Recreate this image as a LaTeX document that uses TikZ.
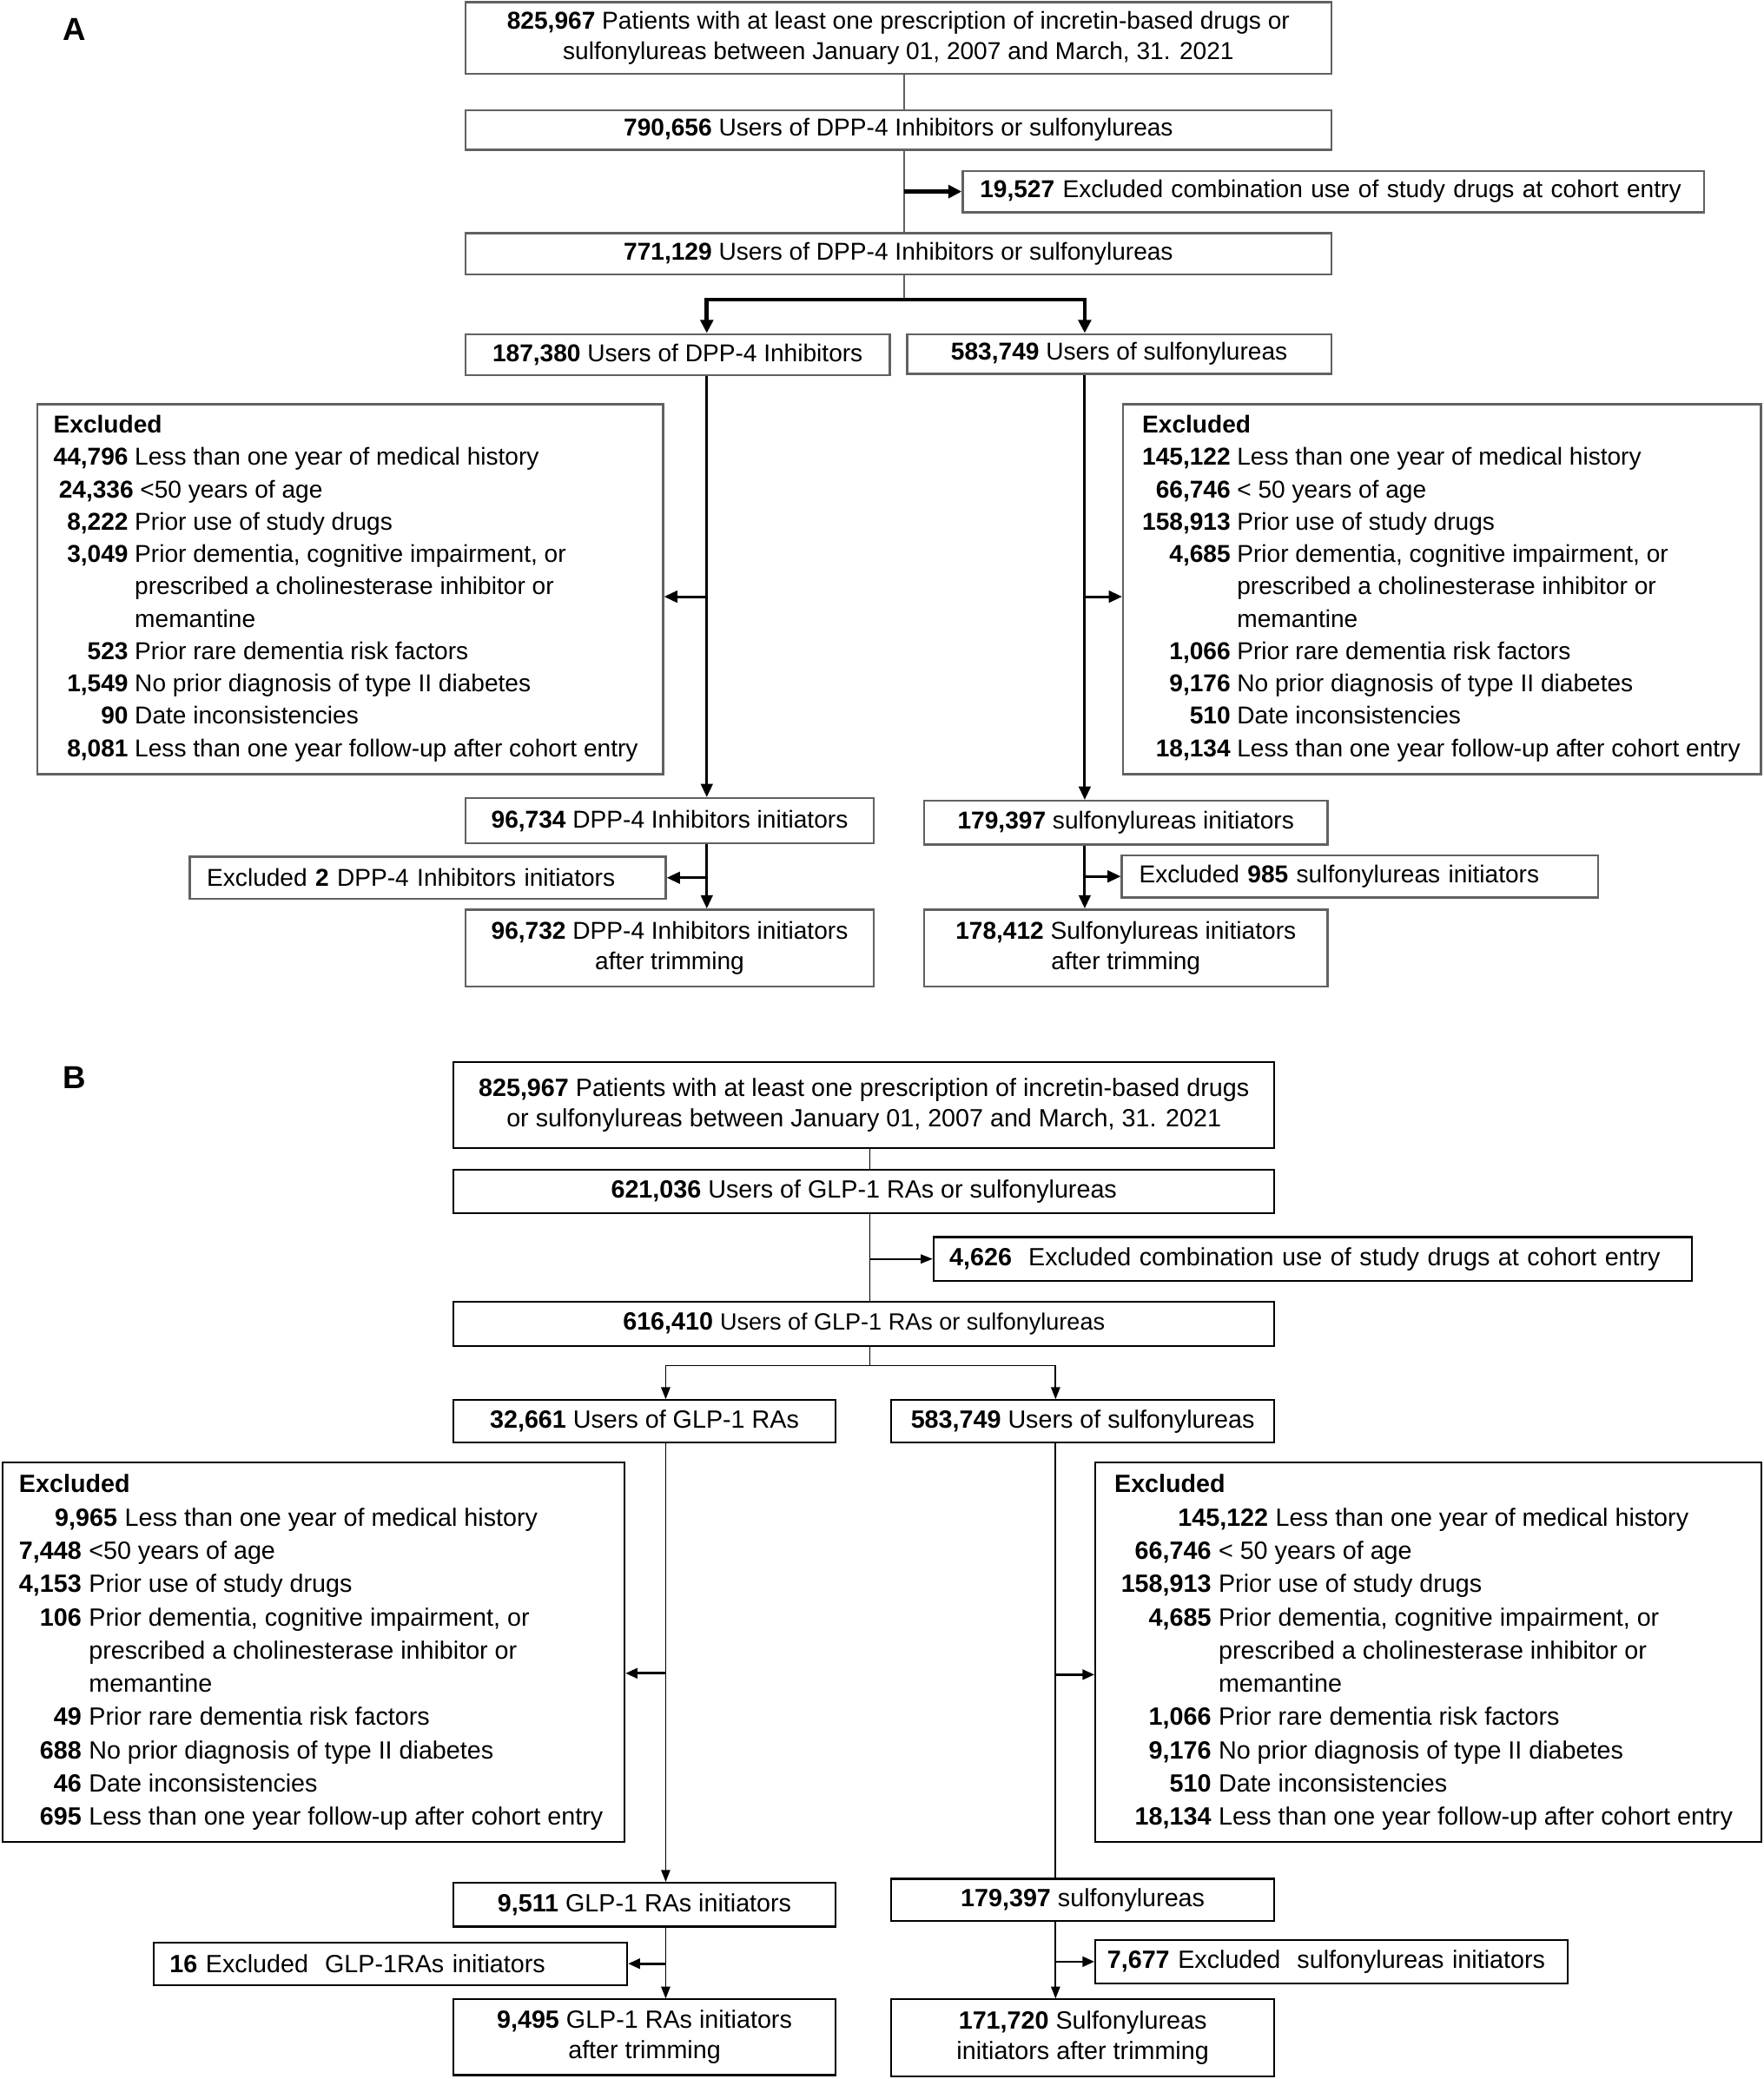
\documentclass[tikz,border=0pt]{standalone}
\usepackage{fontspec}
\setmainfont{Liberation Sans}
\usetikzlibrary{arrows.meta}
\begin{document}
\begin{tikzpicture}[x=0.5pt,y=-0.5pt,
  boxA/.style={draw=black!62, line width=0.8pt, inner sep=0pt, align=center, font=\fontsize{9.2}{11.5}\selectfont},
  boxB/.style={draw=black, line width=0.7pt, inner sep=0pt, align=center, font=\fontsize{9.4}{11.5}\selectfont},
  leftA/.style={boxA, align=left, inner xsep=6.5pt, inner ysep=0pt},
  leftB/.style={boxB, align=left, inner ysep=0pt},
  thinA/.style={draw=black!62, line width=0.6pt},
  arrA/.style={draw=black, line width=1.5pt, -{Triangle[length=5pt,width=4.8pt]}},
  colA/.style={draw=black, line width=1pt, -{Triangle[length=5pt,width=4.4pt]}},
  lineB/.style={draw=black, line width=0.55pt},
  arrB/.style={lineB, -{Triangle[length=4.5pt,width=3.4pt]}},
  sideB/.style={draw=black, line width=0.9pt, -{Triangle[length=4.5pt,width=3.8pt]}},
  exA/.style={anchor=base west, inner sep=0pt, font=\fontsize{9.2}{12.2}\selectfont},
  exB/.style={anchor=base west, inner sep=0pt, font=\fontsize{9.4}{12.55}\selectfont},
  panel/.style={font=\fontsize{12}{14}\selectfont\bfseries, inner sep=0pt}
]
\useasboundingbox (0,0) rectangle (1330,1568);

% ---------------- Panel A ----------------
\node[panel] (labA) at (56,22) {A};
\node[boxA, minimum width=326.5pt, minimum height=27pt] (a1) at (677.5,28.5)
  {\textbf{825,967} Patients with at least one prescription of incretin-based drugs or\\sulfonylureas between January 01, 2007 and March, 31. 2021};
\node[boxA, minimum width=326.5pt, minimum height=15pt] (a2) at (677.5,98)
  {\textbf{790,656} Users of DPP-4 Inhibitors or sulfonylureas};
\node[leftA, text width=266.5pt, minimum height=15.5pt] (aEx) at (1005.5,144.5)
  {\textbf{19,527} Excluded combination use of study drugs at cohort entry};
\node[boxA, minimum width=326.5pt, minimum height=15.5pt] (a3) at (677.5,191.5)
  {\textbf{771,129} Users of DPP-4 Inhibitors or sulfonylureas};
\node[boxA, minimum width=160pt, minimum height=15.5pt] (a4L) at (511,267.5)
  {\textbf{187,380} Users of DPP-4 Inhibitors};
\node[boxA, minimum width=160pt, minimum height=15pt] (a4R) at (844,267)
  {\textbf{583,749} Users of sulfonylureas};
\node[boxA, minimum width=236pt, minimum height=139.5pt] (aExL) at (264,444.5) {};
\node[boxA, minimum width=240.5pt, minimum height=139.5pt] (aExR) at (1087.5,444.5) {};
\node[boxA, minimum width=154pt, minimum height=17pt] (a5L) at (505,619)
  {\textbf{96,734} DPP-4 Inhibitors initiators};
\node[boxA, minimum width=152pt, minimum height=16.5pt] (a5R) at (849,620.5)
  {\textbf{179,397} sulfonylureas initiators};
\node[leftA, text width=166.5pt, minimum height=16pt] (aTrL) at (322.5,662)
  {Excluded \textbf{2} DPP-4 Inhibitors initiators};
\node[leftA, text width=166.5pt, minimum height=16pt] (aTrR) at (1025.5,661)
  {Excluded \textbf{985} sulfonylureas initiators};
\node[boxA, minimum width=154pt, minimum height=29pt] (a6L) at (505,715)
  {\textbf{96,732} DPP-4 Inhibitors initiators\\after trimming};
\node[boxA, minimum width=152pt, minimum height=29pt] (a6R) at (849,715)
  {\textbf{178,412} Sulfonylureas initiators\\after trimming};

\node[exA] (aExLt) at (40,326.6) {\begin{tabular}[t]{@{}r@{\hspace{2.5pt}}l@{}}
\multicolumn{2}{@{}l@{}}{\textbf{Excluded}}\\
\textbf{44,796} & Less than one year of medical history\\
 & \hspace*{2pt}\llap{\textbf{24,336}\hspace{2.5pt}}<50 years of age\\
\textbf{8,222} & Prior use of study drugs\\
\textbf{3,049} & Prior dementia, cognitive impairment, or\\
 & prescribed a cholinesterase inhibitor or\\
 & memantine\\
\textbf{523} & Prior rare dementia risk factors\\
\textbf{1,549} & No prior diagnosis of type II diabetes\\
\textbf{90} & Date inconsistencies\\
\textbf{8,081} & Less than one year follow-up after cohort entry
\end{tabular}};
\node[exA] (aExRt) at (861,326.6) {\begin{tabular}[t]{@{}r@{\hspace{2.5pt}}l@{}}
\multicolumn{2}{@{}l@{}}{\textbf{Excluded}}\\
\textbf{145,122} & Less than one year of medical history\\
\textbf{66,746} & < 50 years of age\\
\textbf{158,913} & Prior use of study drugs\\
\textbf{4,685} & Prior dementia, cognitive impairment, or\\
 & prescribed a cholinesterase inhibitor or\\
 & memantine\\
\textbf{1,066} & Prior rare dementia risk factors\\
\textbf{9,176} & No prior diagnosis of type II diabetes\\
\textbf{510} & Date inconsistencies\\
\textbf{18,134} & Less than one year follow-up after cohort entry
\end{tabular}};

\coordinate (axA) at (682,0);
\coordinate (colAL) at (533,0);
\coordinate (colAR) at (818,0);
\coordinate (splitA) at (682,226);
\coordinate (sideAL) at (533,450);
\coordinate (sideAR) at (818,450);

\draw[thinA] (a1.south -| axA) -- (a2.north -| axA);
\draw[thinA] (a2.south -| axA) -- (a3.north -| axA);
\draw[arrA] (aEx.west -| axA) -- (aEx.west);
\draw[thinA] (a3.south -| axA) -- (splitA);
\draw[arrA] (splitA) -| (a4L.north -| colAL);
\draw[arrA] (splitA) -| (a4R.north -| colAR);
\draw[colA] (a4L.south -| colAL) -- (a5L.north -| colAL);
\draw[colA] (a4R.south -| colAR) -- (a5R.north -| colAR);
\draw[colA] (sideAL) -- (sideAL -| aExL.east);
\draw[colA] (sideAR) -- (sideAR -| aExR.west);
\draw[colA] (a5L.south -| colAL) -- (a6L.north -| colAL);
\draw[colA] (a5R.south -| colAR) -- (a6R.north -| colAR);
\draw[colA] (aTrL.east -| colAL) -- (aTrL.east);
\draw[colA] (aTrR.west -| colAR) -- (aTrR.west);

% ---------------- Panel B ----------------
\node[panel] (labB) at (56,813) {B};
\node[boxB, minimum width=309.5pt, minimum height=32.5pt] (b1) at (651.5,833.5)
  {\textbf{825,967} Patients with at least one prescription of incretin-based drugs\\or sulfonylureas between January 01, 2007 and March, 31. 2021};
\node[boxB, minimum width=309.5pt, minimum height=16.5pt] (b2) at (651.5,898.5)
  {\textbf{621,036} Users of GLP-1 RAs or sulfonylureas};
\node[leftB, inner xsep=6pt, text width=274pt, minimum height=16.5pt] (bEx) at (990,949.5)
  {\textbf{4,626}\ \ Excluded combination use of study drugs at cohort entry};
\node[boxB, minimum width=309.5pt, minimum height=16.5pt] (b3) at (651.5,998.5)
  {\textbf{616,410} {\fontsize{8.85}{11}\selectfont Users of GLP-1 RAs or sulfonylureas}};
\node[boxB, minimum width=144pt, minimum height=16pt] (b4L) at (486,1072)
  {\textbf{32,661} Users of GLP-1 RAs};
\node[boxB, minimum width=144.5pt, minimum height=16pt] (b4R) at (816.5,1072)
  {\textbf{583,749} Users of sulfonylureas};
\node[boxB, minimum width=234.5pt, minimum height=143pt] (bExL) at (236.5,1246) {};
\node[boxB, minimum width=251pt, minimum height=143pt] (bExR) at (1077,1246) {};
\node[boxB, minimum width=144pt, minimum height=16.5pt] (b5L) at (486,1436.5)
  {\textbf{9,511} GLP-1 RAs initiators};
\node[boxB, minimum width=144.5pt, minimum height=16pt] (b5R) at (816.5,1433)
  {\textbf{179,397} sulfonylureas};
\node[leftB, inner xsep=6pt, text width=166.5pt, minimum height=16pt] (bTrL) at (294.5,1481)
  {\textbf{16} Excluded\ \ GLP-1RAs initiators};
\node[leftB, inner xsep=4.5pt, text width=169pt, minimum height=16.5pt] (bTrR) at (1004,1479.5)
  {\textbf{7,677} Excluded\ \ sulfonylureas initiators};
\node[boxB, minimum width=144pt, minimum height=28.5pt] (b6L) at (486,1536.5)
  {\textbf{9,495} GLP-1 RAs initiators\\after trimming};
\node[boxB, minimum width=144.5pt, minimum height=29pt] (b6R) at (816.5,1537)
  {\textbf{171,720} Sulfonylureas\\initiators after trimming};

\node[exB] (bExLt) at (14,1125.7) {\begin{tabular}[t]{@{}r@{\hspace{2.8pt}}l@{}}
\multicolumn{2}{@{}l@{}}{\textbf{Excluded}}\\
 & \hspace*{13.5pt}\llap{\textbf{9,965}\hspace{2.8pt}}Less than one year of medical history\\
\textbf{7,448} & <50 years of age\\
\textbf{4,153} & Prior use of study drugs\\
\textbf{106} & Prior dementia, cognitive impairment, or\\
 & prescribed a cholinesterase inhibitor or\\
 & memantine\\
\textbf{49} & Prior rare dementia risk factors\\
\textbf{688} & No prior diagnosis of type II diabetes\\
\textbf{46} & Date inconsistencies\\
\textbf{695} & Less than one year follow-up after cohort entry
\end{tabular}};
\node[exB] (bExRt) at (845,1125.7) {\begin{tabular}[t]{@{}r@{\hspace{2.8pt}}l@{}}
\multicolumn{2}{@{}l@{}}{\hspace*{-2.5pt}\textbf{Excluded}}\\
 & \hspace*{21.5pt}\llap{\textbf{145,122}\hspace{2.8pt}}Less than one year of medical history\\
\textbf{66,746} & < 50 years of age\\
\textbf{158,913} & Prior use of study drugs\\
\textbf{4,685} & Prior dementia, cognitive impairment, or\\
 & prescribed a cholinesterase inhibitor or\\
 & memantine\\
\textbf{1,066} & Prior rare dementia risk factors\\
\textbf{9,176} & No prior diagnosis of type II diabetes\\
\textbf{510} & Date inconsistencies\\
\textbf{18,134} & Less than one year follow-up after cohort entry
\end{tabular}};

\coordinate (axB) at (656,0);
\coordinate (colBL) at (502,0);
\coordinate (colBR) at (796,0);
\coordinate (splitB) at (656,1030);
\coordinate (sideBL) at (502,1262);
\coordinate (sideBR) at (796,1263);

\draw[lineB] (b1.south -| axB) -- (b2.north -| axB);
\draw[lineB] (b2.south -| axB) -- (b3.north -| axB);
\draw[arrB] (bEx.west -| axB) -- (bEx.west);
\draw[lineB] (b3.south -| axB) -- (splitB);
\draw[arrB] (splitB) -| (b4L.north -| colBL);
\draw[arrB] (splitB) -| (b4R.north -| colBR);
\draw[arrB] (b4L.south -| colBL) -- (b5L.north -| colBL);
\draw[lineB] (b4R.south -| colBR) -- (b5R.north -| colBR);
\draw[sideB] (sideBL) -- (sideBL -| bExL.east);
\draw[sideB] (sideBR) -- (sideBR -| bExR.west);
\draw[arrB] (b5L.south -| colBL) -- (b6L.north -| colBL);
\draw[arrB] (b5R.south -| colBR) -- (b6R.north -| colBR);
\draw[sideB] (bTrL.east -| colBL) -- (bTrL.east);
\draw[sideB] (bTrR.west -| colBR) -- (bTrR.west);
\end{tikzpicture}
\end{document}
